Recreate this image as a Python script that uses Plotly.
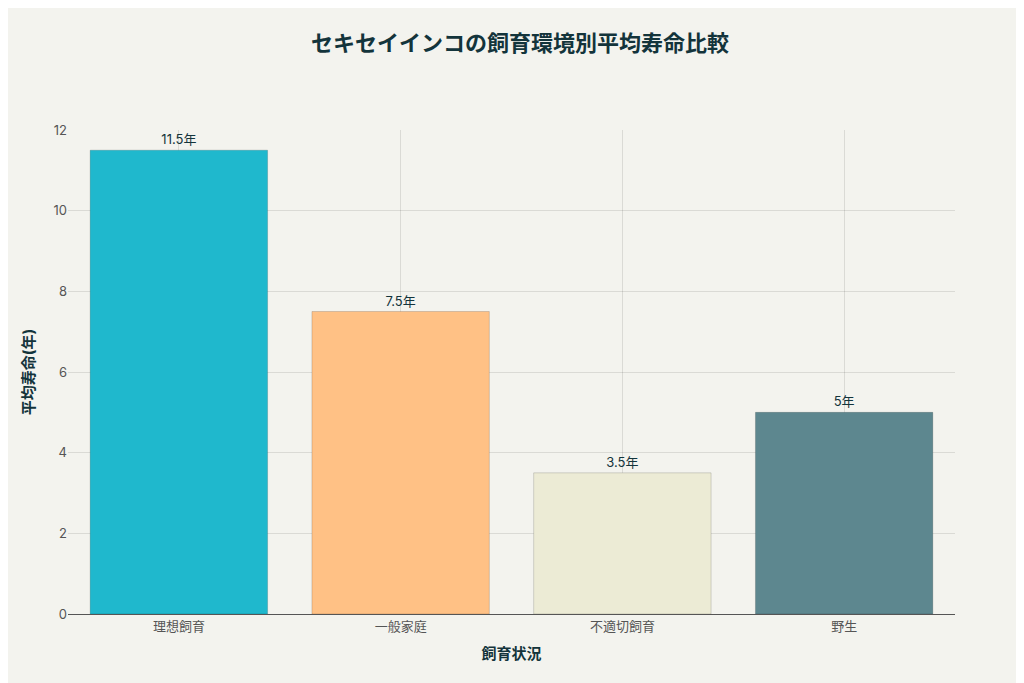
import plotly.graph_objects as go

categories = ["理想飼育", "一般家庭", "不適切飼育", "野生"]
values = [11.5, 7.5, 3.5, 5]
labels = ["11.5年", "7.5年", "3.5年", "5年"]
colors = ["#1FB8CD", "#FFC185", "#ECEBD5", "#5D878F"]

fig = go.Figure(go.Bar(
    x=categories, y=values, text=labels, textposition="outside",
    marker=dict(color=colors, line=dict(color="rgba(0,0,0,0.15)", width=1)),
    textfont=dict(size=13, color="#13343B"), cliponaxis=False, width=0.8,
))
fig.update_layout(
    width=1024, height=683,
    paper_bgcolor="#F3F3EE", plot_bgcolor="#F3F3EE",
    font=dict(family="Inter, Noto Sans CJK JP", color="#13343B"),
    title=dict(text="<b>セキセイインコの飼育環境別平均寿命比較</b>", x=0.5, y=0.96,
               xanchor="center", font=dict(size=22, color="#13343B")),
    margin=dict(l=60, r=77, t=122, b=77),
    showlegend=False,
)
fig.update_xaxes(title=dict(text="<b>飼育状況</b>", font=dict(size=15)),
                 showgrid=True, gridcolor="rgba(0,0,0,0.1)",
                 showline=True, linecolor="#555", tickfont=dict(size=13, color="#555"))
fig.update_yaxes(title=dict(text="<b>平均寿命(年)</b>", font=dict(size=15)),
                 range=[0, 12], dtick=2, showgrid=True, gridcolor="rgba(0,0,0,0.1)",
                 zeroline=False, tickfont=dict(size=13, color="#555"))
fig.write_html("out.html")
